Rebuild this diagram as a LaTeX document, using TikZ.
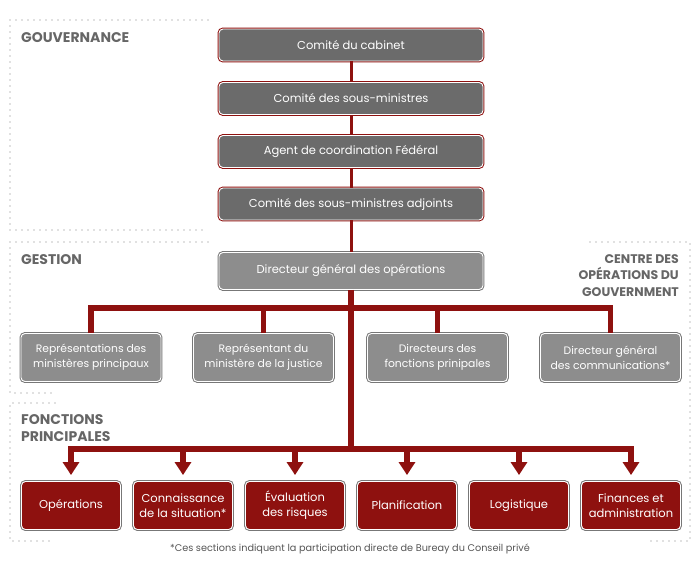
\documentclass[tikz,border=0pt]{standalone}
\usepackage{fontspec}
\setmainfont{Poppins}
\usetikzlibrary{arrows.meta}

\definecolor{govfill}{HTML}{6B6B6B}
\definecolor{mgmtfill}{HTML}{8D8D8D}
\definecolor{mgmtedge}{HTML}{777777}
\definecolor{darkred}{HTML}{8E110F}
\definecolor{headgray}{HTML}{666666}
\definecolor{notegray}{HTML}{555555}
\definecolor{dotgray}{HTML}{C2C2C2}

\tikzset{
  box/.style={rounded corners=4pt, align=center, text=white, inner sep=0pt,
    font=\fontsize{11.5}{15}\selectfont, draw=white, line width=0.9pt},
  govbox/.style={box, fill=govfill, minimum width=264pt, minimum height=32pt,
    preaction={draw=darkred, line width=2.9pt}},
  opsbox/.style={box, fill=mgmtfill, minimum width=264pt, minimum height=37pt,
    preaction={draw=mgmtedge, line width=2.9pt}},
  mgmtbox/.style={box, fill=mgmtfill, minimum width=140pt, minimum height=48pt,
    font=\fontsize{10.8}{15}\selectfont,
    preaction={draw=mgmtedge, line width=2.9pt}},
  funcbox/.style={box, fill=darkred, minimum width=99pt, minimum height=48pt,
    preaction={draw=mgmtedge, line width=2.9pt}},
  thinlink/.style={darkred, line width=3pt},
  thicklink/.style={darkred, line width=5.5pt},
  feed/.style={darkred, line width=5.5pt, -{Triangle[width=16pt,length=13pt]}},
  frame/.style={dotgray, line width=1.6pt, dash pattern=on 0pt off 6pt, line cap=round},
  heading/.style={text=headgray, font=\fontsize{14}{17}\selectfont\bfseries, inner sep=0pt},
  note/.style={text=notegray, font=\fontsize{9.7}{11}\selectfont, inner sep=0pt}
}

\begin{document}
\begin{tikzpicture}[x=1pt, y=-1pt]
  \useasboundingbox (0,0) rectangle (700,562);

  % dotted section frames
  \draw[frame] (208,20) -- (10,20) -- (10,230) -- (205,230);
  \draw[frame] (208,242) -- (10,242) -- (10,393) -- (55,393);
  \draw[frame] (590,242) -- (690,242) -- (690,541) -- (647,541);
  \draw[frame] (55,403) -- (10,403) -- (10,541) -- (50,541);

  % section headings (base anchors sit on the last line)
  \node[heading, anchor=base west] (hgov) at (21,42) {GOUVERNANCE};
  \node[heading, anchor=base west] (hgest) at (21,264) {GESTION};
  \node[heading, anchor=base east, align=right,
        font=\fontsize{12.5}{16.5}\selectfont\bfseries] (hcentre) at (679,296)
    {CENTRE DES\\OPÉRATIONS DU\\GOUVERNMENT};
  \node[heading, anchor=base west, align=left] (hfonc) at (21,441)
    {FONCTIONS\\PRINCIPALES};

  % governance chain
  \node[govbox] (g1) at (351,45) {Comité du cabinet};
  \node[govbox] (g2) at (351,98.5) {Comité des sous-ministres};
  \node[govbox] (g3) at (351,151.5) {Agent de coordination Fédéral};
  \node[govbox] (g4) at (351,204) {Comité des sous-ministres adjoints};

  % management
  \node[opsbox] (dgo) at (351,271) {Directeur général des opérations};
  \node[mgmtbox] (m1) at (91,357.5) {Représentations des\\ministères principaux};
  \node[mgmtbox] (m2) at (263.5,357.5) {Représentant du\\ministère de la justice};
  \node[mgmtbox] (m3) at (437.5,357.5) {Directeurs des\\fonctions prinipales};
  \node[mgmtbox] (m4) at (610.5,357.5) {Directeur général\\des communications*};

  % core functions
  \node[funcbox] (f1) at (71,505.5) {Opérations};
  \node[funcbox] (f2) at (183,505.5) {Connaissance\\de la situation*};
  \node[funcbox] (f3) at (295,505.5) {Évaluation\\des risques};
  \node[funcbox] (f4) at (407,505.5) {Planification};
  \node[funcbox] (f5) at (519,505.5) {Logistique};
  \node[funcbox] (f6) at (631,505.5) {Finances et\\administration};

  % bus coordinates
  \coordinate (hb) at (351,308);
  \coordinate (lb) at (351,449);

  % connectors
  \draw[thinlink] (g1.south) -- (g2.north);
  \draw[thinlink] (g2.south) -- (g3.north);
  \draw[thinlink] (g3.south) -- (g4.north);
  \draw[thinlink] (g4.south) -- (dgo.north);
  \draw[thicklink] (dgo.south) -- (lb);
  \draw[thicklink, line join=miter] (m1.north) |- (hb) -| (m4.north);
  \draw[thicklink] (m2.north) -- (m2.north |- hb);
  \draw[thicklink] (m3.north) -- (m3.north |- hb);
  \draw[thicklink, line cap=rect] (f1.north |- lb) -- (f6.north |- lb);
  \foreach \f in {f1,f2,f3,f4,f5,f6}
    \draw[feed] (\f.north |- lb) -- ([yshift=6pt]\f.north);

  % footnote
  \node[note, anchor=base] (fn) at (350,551)
    {*Ces sections indiquent la participation directe de Bureay du Conseil privé};
\end{tikzpicture}
\end{document}
